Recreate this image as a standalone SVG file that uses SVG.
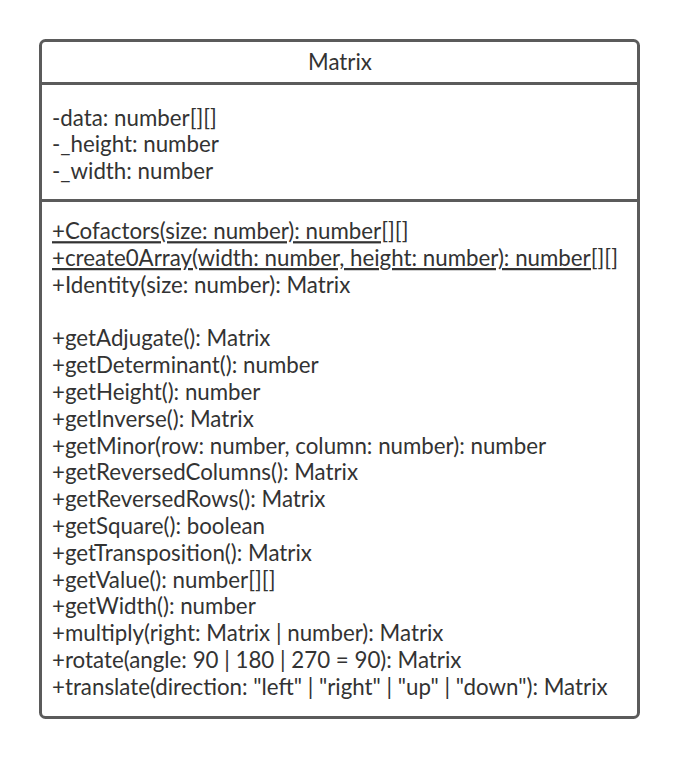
<svg xmlns="http://www.w3.org/2000/svg" width="680" height="758" viewBox="0 0 680 758">
  <style>
    .frame { fill: #ffffff; stroke: #5b5b5b; stroke-width: 3; }
    .sep { stroke: #5b5b5b; stroke-width: 3; }
    text { font-family: Lato, "Open Sans", "Liberation Sans", sans-serif; font-size: 22.3px; fill: #333333; }
    .title { text-anchor: middle; }
    .static { text-decoration: underline; text-decoration-skip-ink: none; }
  </style>
  <rect width="680" height="758" fill="#ffffff"/>
  <g id="Matrix">
    <rect class="frame" x="40.5" y="40.5" width="598" height="677" rx="5" ry="5"/>
    <line class="sep" x1="40.5" y1="83.5" x2="638.5" y2="83.5"/>
    <line class="sep" x1="40.5" y1="200.5" x2="638.5" y2="200.5"/>
    <text class="title" x="340" y="69.5">Matrix</text>
    <!-- attributes -->
    <text x="52" y="125.5">-data: number[][]</text>
    <text x="52" y="152.3">-_height: number</text>
    <text x="52" y="179.1">-_width: number</text>
    <!-- static methods -->
    <text class="static" x="52" y="239.2">+Cofactors(size: number): number[][]</text>
    <text class="static" x="52" y="266">+create0Array(width: number, height: number): number[][]</text>
    <text x="52" y="292.8">+Identity(size: number): Matrix</text>
    <!-- instance methods -->
    <text x="52" y="346.4">+getAdjugate(): Matrix</text>
    <text x="52" y="373.2">+getDeterminant(): number</text>
    <text x="52" y="400">+getHeight(): number</text>
    <text x="52" y="426.8">+getInverse(): Matrix</text>
    <text x="52" y="453.6">+getMinor(row: number, column: number): number</text>
    <text x="52" y="480.4">+getReversedColumns(): Matrix</text>
    <text x="52" y="507.2">+getReversedRows(): Matrix</text>
    <text x="52" y="534">+getSquare(): boolean</text>
    <text x="52" y="560.8">+getTransposition(): Matrix</text>
    <text x="52" y="587.6">+getValue(): number[][]</text>
    <text x="52" y="614.4">+getWidth(): number</text>
    <text x="52" y="641.2">+multiply(right: Matrix | number): Matrix</text>
    <text x="52" y="668">+rotate(angle: 90 | 180 | 270 = 90): Matrix</text>
    <text x="52" y="694.8">+translate(direction: "left" | "right" | "up" | "down"): Matrix</text>
  </g>
  <g id="connectors"/>
</svg>
